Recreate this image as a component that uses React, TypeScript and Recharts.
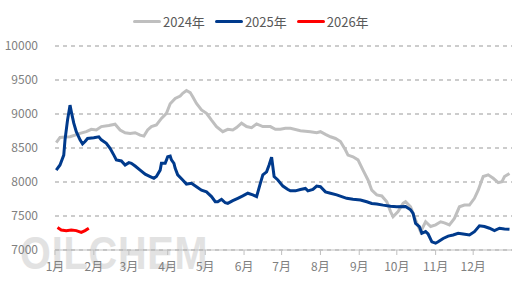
import { LineChart, Line, XAxis, YAxis, CartesianGrid, Legend } from "recharts";

// month start positions (day of year) and their labels
const monthStarts = [0, 31, 59, 90, 120, 151, 181, 212, 243, 273, 304, 334];
const monthLabels = ["1月", "2月", "3月", "4月", "5月", "6月", "7月", "8月", "9月", "10月", "11月", "12月"];
const yTicks = [7000, 7500, 8000, 8500, 9000, 9500, 10000];

const days2024 = [
  1, 4, 8, 12, 16, 20, 25, 29, 33, 37, 43, 48, 52, 56, 60, 64, 68, 71, 74, 77, 81, 85, 89, 92, 96,
  100, 102, 105, 108, 110, 113, 117, 121, 125, 129, 134, 138, 142, 145, 149, 153, 157, 161, 166,
  172, 176, 180, 184, 188, 196, 204, 209, 212, 216, 220, 224, 228, 232, 234, 238, 242, 246, 250,
  253, 257, 261, 265, 268, 270, 274, 278, 280, 284, 288, 292, 296, 300, 304, 308, 311, 315, 319,
  323, 327, 331, 335, 338, 342, 346, 350, 354, 357, 359, 363,
];
const price2024 = [
  8580, 8655, 8660, 8665, 8690, 8715, 8740, 8775, 8765, 8815, 8830, 8850, 8765, 8725, 8715, 8725,
  8690, 8675, 8765, 8815, 8840, 8935, 9010, 9150, 9230, 9265, 9305, 9345, 9315, 9255, 9155, 9060,
  9010, 8910, 8815, 8740, 8775, 8765, 8800, 8865, 8815, 8800, 8855, 8815, 8815, 8775, 8775, 8790,
  8790, 8755, 8740, 8725, 8740, 8700, 8665, 8640, 8595, 8470, 8395, 8370, 8325, 8175, 8030, 7880,
  7810, 7795, 7710, 7565, 7490, 7565, 7685, 7710, 7635, 7440, 7270, 7415, 7345, 7370, 7415, 7400,
  7370, 7465, 7635, 7660, 7660, 7760, 7880, 8080, 8105, 8055, 7990, 8005, 8080, 8125,
];

const days2025 = [
  1, 4, 7, 8, 10, 12, 13, 15, 17, 20, 22, 24, 26, 31, 35, 37, 41, 44, 47, 49, 53, 56, 59, 61, 64,
  68, 72, 76, 79, 81, 84, 85, 88, 90, 92, 93, 95, 96, 98, 102, 105, 109, 113, 117, 121, 125, 128,
  130, 133, 136, 138, 142, 146, 150, 154, 158, 161, 164, 166, 169, 171, 173, 175, 178, 182, 186,
  188, 192, 196, 200, 202, 206, 209, 212, 216, 220, 225, 229, 233, 238, 244, 249, 253, 257, 262,
  268, 273, 280, 284, 286, 288, 291, 293, 296, 298, 301, 304, 306, 310, 314, 318, 322, 326, 331,
  335, 339, 343, 347, 351, 355, 359, 363,
];
const price2025 = [
  8175, 8250, 8395, 8620, 8910, 9130, 9035, 8865, 8740, 8620, 8560, 8595, 8640, 8650, 8665, 8620,
  8570, 8495, 8395, 8325, 8310, 8250, 8285, 8275, 8235, 8175, 8115, 8080, 8055, 8080, 8175, 8275,
  8275, 8370, 8380, 8325, 8275, 8200, 8105, 8030, 7970, 7980, 7930, 7880, 7855, 7785, 7710, 7710,
  7745, 7695, 7685, 7725, 7760, 7795, 7835, 7810, 7785, 7980, 8105, 8150, 8250, 8365, 8080, 8030,
  7940, 7890, 7870, 7870, 7890, 7905, 7870, 7890, 7940, 7930, 7855, 7835, 7810, 7785, 7760, 7745,
  7735, 7710, 7685, 7675, 7660, 7645, 7635, 7640, 7590, 7540, 7390, 7345, 7245, 7270, 7235, 7120,
  7100, 7120, 7170, 7205, 7220, 7245, 7235, 7220, 7270, 7355, 7345, 7320, 7285, 7320, 7310, 7305,
];

const days2026 = [2, 5, 9, 13, 17, 21, 24, 27];
const price2026 = [7330, 7295, 7285, 7295, 7285, 7260, 7285, 7320];

const toPoints = (days: number[], values: number[]) =>
  days.map((day, i) => ({ day, value: values[i] }));

const series = [
  { name: "2024年", color: "#bfbfbf", data: toPoints(days2024, price2024) },
  { name: "2025年", color: "#003a8c", data: toPoints(days2025, price2025) },
  { name: "2026年", color: "#ff0000", data: toPoints(days2026, price2026) },
];

const font = '"Noto Sans CJK SC", "Noto Sans", sans-serif';

function LegendRow() {
  return (
    <div style={{ display: "flex", paddingLeft: 133, gap: 10, fontFamily: font, fontSize: 13, color: "#595959" }}>
      {series.map((s) => (
        <span key={s.name} style={{ display: "flex", alignItems: "center", gap: 2 }}>
          <span style={{ width: 28, height: 3, borderRadius: 2, background: s.color, display: "inline-block" }} />
          {s.name}
        </span>
      ))}
    </div>
  );
}

export default function App() {
  return (
    <div style={{ position: "relative", width: 530, height: 295, background: "#fff" }}>
      <style>{"body{margin:0}"}</style>
      <div
        style={{
          position: "absolute",
          left: 20,
          top: 226,
          fontFamily: '"Liberation Sans", sans-serif',
          fontWeight: 700,
          fontSize: 46,
          color: "#e2e2e2",
          transform: "scaleX(0.86)",
          transformOrigin: "left top",
          letterSpacing: 1,
        }}
      >
        OILCHEM
      </div>
      <div style={{ position: "absolute", left: 0, top: 0 }}>
        <LineChart width={530} height={295} margin={{ top: 46, right: 18, bottom: 15, left: 0 }}>
          <CartesianGrid vertical={false} stroke="#999" strokeDasharray="4 4" />
          <XAxis
            dataKey="day"
            type="number"
            domain={[0, 365]}
            ticks={monthStarts}
            interval={0}
            tickFormatter={(v: number) => monthLabels[monthStarts.indexOf(v)] ?? ""}
            stroke="#bfbfbf"
            tickSize={5}
            tickMargin={7}
            height={30}
            tick={{ fill: "#808080", fontSize: 12, fontFamily: font }}
          />
          <YAxis
            domain={[7000, 10000]}
            ticks={yTicks}
            interval={0}
            axisLine={false}
            tickLine={false}
            width={55}
            tickMargin={11}
            tick={{ fill: "#808080", fontSize: 12, fontFamily: font }}
          />
          <Legend verticalAlign="middle" wrapperStyle={{ top: 12, left: 0, width: 530 }} content={() => <LegendRow />} />
          {series.map((s) => (
            <Line
              key={s.name}
              data={s.data}
              dataKey="value"
              name={s.name}
              type="linear"
              stroke={s.color}
              strokeWidth={3}
              dot={false}
              isAnimationActive={false}
            />
          ))}
        </LineChart>
      </div>
    </div>
  );
}
